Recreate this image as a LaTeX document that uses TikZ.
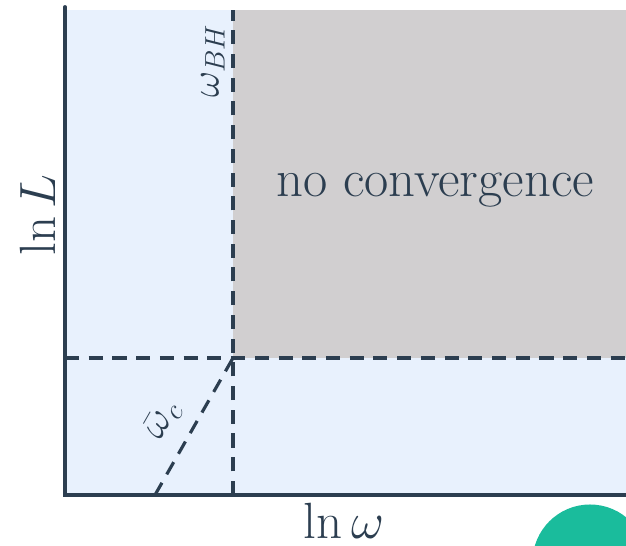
\documentclass[tikz,border=0pt]{standalone}
\usepackage{fix-cm}
\usepackage{amsmath,amssymb}
\usetikzlibrary{arrows.meta}
\definecolor{inkdark}{RGB}{44, 62, 80}
\definecolor{paleblue}{RGB}{232, 241, 253}
\definecolor{softgray}{RGB}{209, 207, 208}
\definecolor{tealgreen}{RGB}{26, 188, 156}
\begin{document}
\begin{tikzpicture}[
    axisline/.style={inkdark, line width=2.2pt, line cap=round},
    boundline/.style={inkdark, line width=1.8pt, dash pattern=on 8pt off 5.5pt},
    lbl/.style={text=inkdark, font=\fontsize{29}{32}\selectfont},
    smalllbl/.style={text=inkdark, font=\fontsize{23}{26}\selectfont}
  ]
  \useasboundingbox (0,0) rectangle (12.52,10.92);
  \clip (0,0) rectangle (12.52,10.92);

  % ===== regions =====
  \fill[paleblue] (1.30,1.02) rectangle (12.52,10.72);
  \fill[softgray] (4.66,3.76) rectangle (12.52,10.72);

  % ===== bounds =====
  \coordinate (crit) at (4.66,3.76);
  \coordinate (foot) at (3.10,1.02);
  \draw[boundline] (4.66,1.02) -- (crit) -- (4.66,10.72);
  \draw[boundline] (1.30,3.76) -- (crit) -- (12.52,3.76);
  \draw[boundline] (foot) -- (crit);

  % axes
  \draw[axisline] (1.30,10.78) -- (1.30,1.02) -- (12.52,1.02);

  % ===== labels =====
  \node[lbl, font=\fontsize{30}{34}\selectfont] (region) at (8.70,7.12) {no convergence};
  \node[lbl, rotate=90] (ylab) at (0.76,6.62) {$\ln L$};
  \node[lbl, inner sep=1pt] (xlab) at (6.88,0.50) {$\ln\omega$};
  \node[smalllbl, rotate=90] (wbh) at (4.26,9.70) {$\omega_{BH}$};
  \node[smalllbl, rotate=60.3, inner sep=0pt] (wc) at (3.26,2.52) {$\bar{\omega}_c$};

  % corner disc
  \fill[tealgreen] (11.80,-0.32) circle (1.15);
\end{tikzpicture}
\end{document}
